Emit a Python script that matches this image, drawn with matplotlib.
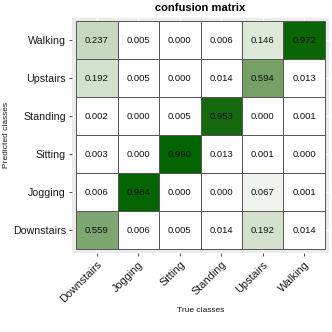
import matplotlib
matplotlib.use("Agg")
import matplotlib.pyplot as plt
import numpy as np
from matplotlib.colors import ListedColormap
from matplotlib.patches import Rectangle

classes = ["Downstairs", "Jogging", "Sitting", "Standing", "Upstairs", "Walking"]
# rows: predicted class (bottom to top order as classes), cols: true class
pred_downstairs = [0.559, 0.006, 0.005, 0.014, 0.192, 0.014]
pred_jogging    = [0.006, 0.984, 0.000, 0.000, 0.067, 0.001]
pred_sitting    = [0.003, 0.000, 0.990, 0.013, 0.001, 0.000]
pred_standing   = [0.002, 0.000, 0.005, 0.953, 0.000, 0.001]
pred_upstairs   = [0.192, 0.005, 0.000, 0.014, 0.594, 0.013]
pred_walking    = [0.237, 0.005, 0.000, 0.006, 0.146, 0.972]

mat = np.array([pred_downstairs, pred_jogging, pred_sitting,
                pred_standing, pred_upstairs, pred_walking])

plt.rcParams['font.family'] = ['Liberation Sans', 'DejaVu Sans']


# --- Lab-space gradient white -> darkgreen (like ggplot scale_fill_gradient)
def srgb_to_lab(rgb):
    rgb = np.asarray(rgb, float)
    lin = np.where(rgb <= 0.04045, rgb / 12.92, ((rgb + 0.055) / 1.055) ** 2.4)
    M = np.array([[0.4124, 0.3576, 0.1805],
                  [0.2126, 0.7152, 0.0722],
                  [0.0193, 0.1192, 0.9505]])
    xyz = M @ lin
    wp = np.array([0.95047, 1.0, 1.08883])
    t = xyz / wp
    f = np.where(t > 0.008856, np.cbrt(t), 7.787 * t + 16 / 116)
    return np.array([116 * f[1] - 16, 500 * (f[0] - f[1]), 200 * (f[1] - f[2])])


def lab_to_srgb(lab):
    L, a, b = lab
    fy = (L + 16) / 116
    fx = fy + a / 500
    fz = fy - b / 200
    f = np.array([fx, fy, fz])
    t = np.where(f ** 3 > 0.008856, f ** 3, (f - 16 / 116) / 7.787)
    wp = np.array([0.95047, 1.0, 1.08883])
    xyz = t * wp
    Minv = np.array([[3.2406, -1.5372, -0.4986],
                     [-0.9689, 1.8758, 0.0415],
                     [0.0557, -0.2040, 1.0570]])
    lin = Minv @ xyz
    lin = np.clip(lin, 0, 1)
    rgb = np.where(lin <= 0.0031308, 12.92 * lin, 1.055 * lin ** (1 / 2.4) - 0.055)
    return np.clip(rgb, 0, 1)


lab_lo = srgb_to_lab([1, 1, 1])
lab_hi = srgb_to_lab([0, 100 / 255, 0])
cols = [lab_to_srgb(lab_lo + (lab_hi - lab_lo) * t) for t in np.linspace(0, 1, 256)]
cmap = ListedColormap(cols)
vmin, vmax = mat.min(), mat.max()

fig = plt.figure(figsize=(3.32, 3.32), dpi=100)
ax = fig.add_axes([0.2169, 0.238, 0.991 - 0.2169, 0.947 - 0.238])
ax.set_facecolor("#EBEBEB")
n = len(classes)
ax.set_xlim(-0.6, n - 0.4)
ax.set_ylim(-0.6, n - 0.4)
ax.set_xticks(range(n))
ax.set_yticks(range(n))
ax.grid(True, color="white", linewidth=1.0)
ax.set_axisbelow(True)
for s in ax.spines.values():
    s.set_visible(False)

for r in range(n):
    for c in range(n):
        v = mat[r, c]
        ax.add_patch(Rectangle((c - 0.5, r - 0.5), 1, 1,
                               facecolor=cmap((v - vmin) / (vmax - vmin)),
                               edgecolor="#555555", linewidth=0.7, zorder=2))
        ax.text(c, r, f"{v:.3f}", ha="center", va="center",
                fontsize=6.8, color="#111111", zorder=3)

ax.set_xticklabels(classes, rotation=45, ha="right", rotation_mode="anchor",
                   fontsize=7.8, color="#1a1a1a")
ax.set_yticklabels(classes, fontsize=7.7, color="#1a1a1a")
ax.tick_params(axis="both", length=2.5, width=0.6, color="#333333", pad=2)

fig.text(200.5 / 332, 1 - 310 / 332, "True classes", fontsize=6,
         color="#1a1a1a", ha="center", va="center")
fig.text(6.5 / 332, 1 - 135 / 332, "Predicted classes", fontsize=6,
         color="#1a1a1a", ha="center", va="center", rotation=90)
ax.set_title("confusion matrix", fontsize=8, fontweight="bold", pad=5)

fig.savefig("out.png", dpi=100)
